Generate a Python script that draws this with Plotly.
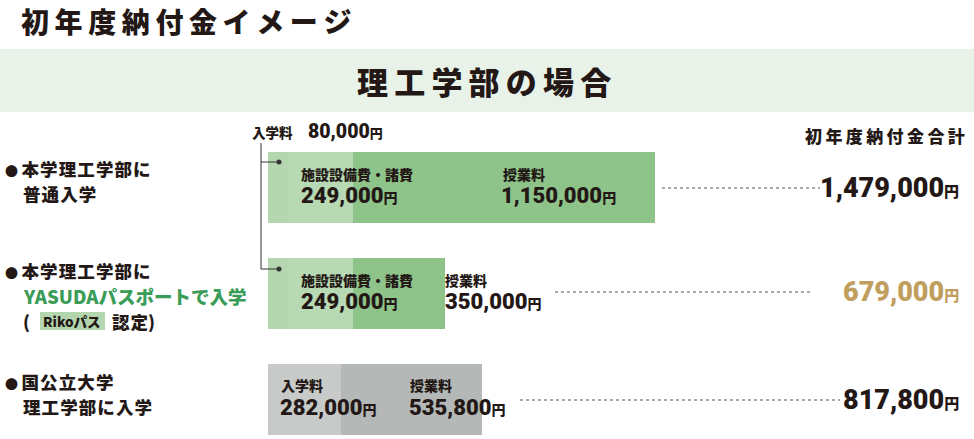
import plotly.graph_objects as go

W, H = 974, 439

# ---- data ----
rows = ["本学理工学部に普通入学", "本学理工学部にYASUDAパスポートで入学", "国公立大学理工学部に入学"]
admission = [80000, 80000, 282000]      # 入学料
facility = [249000, 249000, 0]          # 施設設備費・諸費
tuition = [1150000, 350000, 535800]     # 授業料
totals = [a + f + t for a, f, t in zip(admission, facility, tuition)]

TXT = "#231815"
JP = "Noto Sans CJK JP"
NUM = "Roboto, Noto Sans CJK JP"

# pixel scale: x=0 at 267px, 0.2625 px per 1000 yen
x0_px, k = 267.0, 0.2625 / 1000
xr = [-x0_px / k, (W - x0_px) / k]
# category rows: centre of row i at 187.5 + 106*i px
yc, ys = 187.5, 106.0
yr = [(H - yc) / ys, -yc / ys]

fig = go.Figure()
fig.add_bar(y=rows, x=admission, orientation="h",
            marker=dict(color=["#b4d7b0", "#b4d7b0", "#c7cac8"], line=dict(color="white", width=1)),
            hoverinfo="skip")
fig.add_bar(y=rows, x=facility, orientation="h",
            marker=dict(color=["#b7d9b3", "#b7d9b3", "#c7cac8"], line=dict(width=0)),
            hoverinfo="skip")
fig.add_bar(y=rows, x=tuition, orientation="h",
            marker=dict(color=["#8ec38a", "#8ec38a", "#b4b8b6"], line=dict(width=0)),
            hoverinfo="skip")


def px(x):
    return x / W


def py(y):
    return 1 - y / H


def sp(s, ch="\u200a"):
    return ch.join(s)


ann = []


def A(x, y, text, size, color=TXT, xanchor="left", family=JP, weight=900):
    ann.append(dict(x=px(x), y=py(y), xref="paper", yref="paper", text=text, showarrow=False,
                    xanchor=xanchor, yanchor="middle", borderpad=0,
                    font=dict(size=size, color=color, family=family, weight=weight)))


def yen(v, size_yen):
    return f"{v:,}<span style='font-size:{size_yen}px'>円</span>"


BUL = "<span style='font-size:13px'>●</span>\u2009"

# titles
A(20, 21, sp("初年度納付金イメージ", "\u2009"), 28)
A(484, 80, sp("理工学部の場合", "\u2009"), 31, xanchor="center")
A(966, 135, sp("初年度納付金合計", "\u2009"), 17)
ann[-1]["xanchor"] = "right"

# left labels
A(4, 168, BUL + sp("本学理工学部に", "\u200a"), 17.5)
A(22, 193, sp("普通入学", "\u200a"), 17.5)
A(4, 270, BUL + sp("本学理工学部に", "\u200a"), 17.5)
A(22, 296, "YASUDAパスポートで入学", 18.5, color="#3a9c57")
A(22, 321, "(", 17.5)
A(72, 321, "Rikoパス", 13.5, xanchor="center")
A(111, 321, sp("認定", "\u200a") + ")", 17.5)
A(4, 381, BUL + sp("国公立大学", "\u200a"), 17.5)
A(22, 406, sp("理工学部に入学", "\u200a"), 17.5)

# top admission label
A(251, 132, "入学料", 13.5)
A(307, 132, yen(admission[0], 13), 19.5, family=NUM)

# row 1 in-bar labels
A(300, 174, "施設設備費・諸費", 14)
A(300, 195, yen(facility[0], 14), 22, family=NUM)
A(502, 174, "授業料", 14)
A(500, 195, yen(tuition[0], 14), 22, family=NUM)
# row 2
A(300, 280, "施設設備費・諸費", 14)
A(300, 301, yen(facility[1], 14), 22, family=NUM)
A(444, 280, "授業料", 14)
A(444, 301, yen(tuition[1], 14), 22, family=NUM)
# row 3
A(280, 385, "入学料", 14)
A(279, 407, yen(admission[2], 14), 22, family=NUM)
A(409, 385, "授業料", 14)
A(408, 407, yen(tuition[2], 14), 22, family=NUM)

# totals
A(960, 188, yen(totals[0], 15), 27, family=NUM, xanchor="right")
A(960, 292, yen(totals[1], 15), 27, color="#c09e5e", family=NUM, xanchor="right")
A(960, 400, yen(totals[2], 15), 27, family=NUM, xanchor="right")

shapes = []
# header band
shapes.append(dict(type="rect", xref="paper", yref="paper", x0=0, x1=1, y0=py(112), y1=py(49),
                   fillcolor="#e9f2e8", line=dict(width=0), layer="below"))
# Riko pass box
shapes.append(dict(type="rect", xref="paper", yref="paper", x0=px(40), x1=px(105), y0=py(330), y1=py(312),
                   fillcolor="#b3d6ae", line=dict(width=0), layer="below"))
# connector
LC = "#333333"
shapes.append(dict(type="line", xref="paper", yref="paper", x0=px(261), x1=px(261), y0=py(143), y1=py(269),
                   line=dict(color=LC, width=1)))
for yy in (162, 269):
    shapes.append(dict(type="line", xref="paper", yref="paper", x0=px(261), x1=px(278), y0=py(yy), y1=py(yy),
                       line=dict(color=LC, width=1)))
    shapes.append(dict(type="circle", xref="paper", yref="paper", x0=px(276.5), x1=px(281.5),
                       y0=py(yy + 2.5), y1=py(yy - 2.5), fillcolor=LC, line=dict(width=0)))
# dotted leaders
for (xa, xb, yy) in [(662, 820, 188), (555, 812, 292), (520, 840, 400)]:
    shapes.append(dict(type="line", xref="paper", yref="paper", x0=px(xa), x1=px(xb), y0=py(yy), y1=py(yy),
                       line=dict(color="#555555", width=1.1, dash="dot")))

fig.update_layout(
    width=W, height=H, margin=dict(l=0, r=0, t=0, b=0),
    paper_bgcolor="white", plot_bgcolor="rgba(0,0,0,0)",
    barmode="stack", bargap=0.33, showlegend=False,
    xaxis=dict(range=xr, visible=False, fixedrange=True),
    yaxis=dict(range=yr, visible=False, type="category", fixedrange=True),
    annotations=ann, shapes=shapes,
)
fig.write_html("out.html", config={"displayModeBar": False},
               post_script="document.body.style.margin='0px';")
